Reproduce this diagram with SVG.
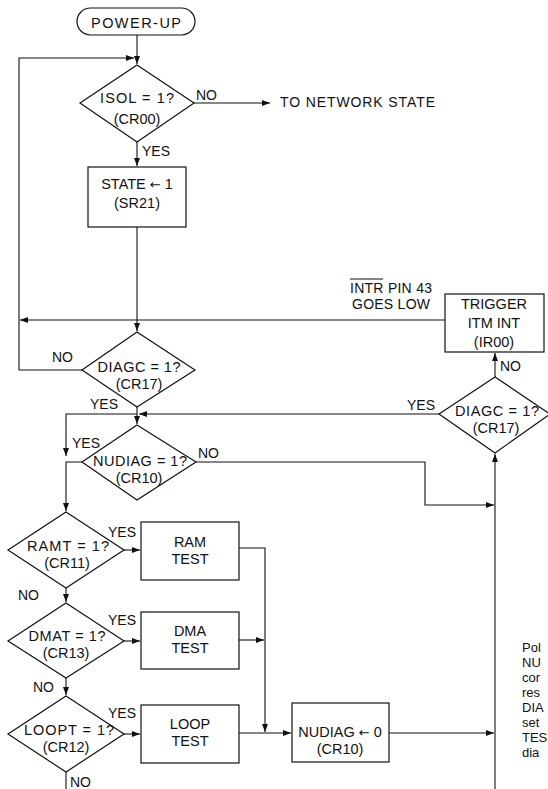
<svg xmlns="http://www.w3.org/2000/svg" width="548" height="789" viewBox="0 0 548 789">
<style>
  .shape { fill: none; stroke: #111; stroke-width: 1.2; }
  .conn { fill: none; stroke: #111; stroke-width: 1.1; }
  text { font-family: "Liberation Sans", Arial, sans-serif; font-size: 14px; fill: #111; }
  .n { font-size: 14.5px; text-anchor: middle; }
  .arr { font-family: "DejaVu Sans", sans-serif; font-size: 13px; }
  .note { font-size: 13px; }
</style>
<defs>
  <marker id="ah" markerUnits="userSpaceOnUse" markerWidth="8" markerHeight="6" refX="8" refY="3" orient="auto">
    <path d="M0,0 L8,3 L0,6 z" fill="#111"/>
  </marker>
</defs>
<rect width="548" height="789" fill="#fff"/>

<g id="connectors">
  <path class="conn" d="M137,35 V64" marker-end="url(#ah)"/>
  <path class="conn" d="M82,370 H19 V58 H134" marker-end="url(#ah)"/>
  <path class="conn" d="M194,103 H270" marker-end="url(#ah)"/>
  <path class="conn" d="M137,142 V166" marker-end="url(#ah)"/>
  <path class="conn" d="M137,227 V331" marker-end="url(#ah)"/>
  <path class="conn" d="M445,320 H20" marker-end="url(#ah)"/>
  <path class="conn" d="M137,407 V424" marker-end="url(#ah)"/>
  <path class="conn" d="M137,414 H66 V456" marker-end="url(#ah)"/>
  <path class="conn" d="M82,462 H66 V511" marker-end="url(#ah)"/>
  <path class="conn" d="M439,414 H139" marker-end="url(#ah)"/>
  <path class="conn" d="M495,377 V353" marker-end="url(#ah)"/>
  <path class="conn" d="M196,462 H425 V505 H494" marker-end="url(#ah)"/>
  <path class="conn" d="M495,789 V454" marker-end="url(#ah)"/>
  <path class="conn" d="M124,550 H140" marker-end="url(#ah)"/>
  <path class="conn" d="M66,588 V602" marker-end="url(#ah)"/>
  <path class="conn" d="M124,641 H140" marker-end="url(#ah)"/>
  <path class="conn" d="M66,678 V695" marker-end="url(#ah)"/>
  <path class="conn" d="M124,734 H140" marker-end="url(#ah)"/>
  <path class="conn" d="M66,772 V789"/>
  <path class="conn" d="M239,548 H265 V732" marker-end="url(#ah)"/>
  <path class="conn" d="M239,640 H264" marker-end="url(#ah)"/>
  <path class="conn" d="M239,733 H291" marker-end="url(#ah)"/>
  <path class="conn" d="M389,733 H494" marker-end="url(#ah)"/>
</g>

<g id="labels">
  <text x="196" y="100">NO</text>
  <text x="280" y="107" font-size="15" textLength="155">TO NETWORK STATE</text>
  <text x="142" y="156">YES</text>
  <text x="52" y="362">NO</text>
  <text x="90" y="409">YES</text>
  <text x="72" y="448">YES</text>
  <text x="198" y="458">NO</text>
  <text x="407" y="410">YES</text>
  <text x="500" y="371">NO</text>
  <text x="350" y="293" textLength="82">INTR PIN 43</text>
  <line x1="350" y1="279" x2="383" y2="279" stroke="#111" stroke-width="1"/>
  <text x="352" y="309" textLength="78">GOES LOW</text>
  <text x="108" y="537">YES</text>
  <text x="18" y="600">NO</text>
  <text x="108" y="625">YES</text>
  <text x="33" y="692">NO</text>
  <text x="108" y="718">YES</text>
  <text x="70" y="787">NO</text>
</g>

<g id="power-up">
  <rect class="shape" x="77" y="8" width="118" height="27" rx="13.5"/>
  <text class="n" x="136" y="28" font-size="15" textLength="90">POWER-UP</text>
</g>
<g id="isol">
  <polygon class="shape" points="137,65 194,103 137,142 80,103"/>
  <text class="n" x="137" y="103" textLength="74">ISOL = 1?</text>
  <text class="n" x="137" y="124">(CR00)</text>
</g>
<g id="state">
  <rect class="shape" x="88" y="167" width="98" height="60"/>
  <text class="n" x="137" y="189">STATE <tspan class="arr">←</tspan> 1</text>
  <text class="n" x="137" y="208">(SR21)</text>
</g>
<g id="diagc-left">
  <polygon class="shape" points="137,332 195,370 137,407 82,370"/>
  <text class="n" x="139" y="372" textLength="83">DIAGC = 1?</text>
  <text class="n" x="139" y="389">(CR17)</text>
</g>
<g id="trigger">
  <rect class="shape" x="445" y="294" width="99" height="58"/>
  <text class="n" x="494" y="309">TRIGGER</text>
  <text class="n" x="494" y="328">ITM INT</text>
  <text class="n" x="494" y="347">(IR00)</text>
</g>
<g id="diagc-right">
  <polygon class="shape" points="495,377 550,414 495,453 439,414"/>
  <text class="n" x="497" y="416" textLength="84">DIAGC = 1?</text>
  <text class="n" x="496" y="433">(CR17)</text>
</g>
<g id="nudiag">
  <polygon class="shape" points="137,425 196,462 137,500 82,462"/>
  <text class="n" x="140" y="466" textLength="94">NUDIAG = 1?</text>
  <text class="n" x="139" y="483">(CR10)</text>
</g>
<g id="ramt">
  <polygon class="shape" points="66,512 124,550 66,588 8,550"/>
  <text class="n" x="68" y="551" textLength="82">RAMT = 1?</text>
  <text class="n" x="67" y="568">(CR11)</text>
</g>
<g id="ram-test">
  <rect class="shape" x="141" y="522" width="98" height="58"/>
  <text class="n" x="190" y="547">RAM</text>
  <text class="n" x="190" y="564">TEST</text>
</g>
<g id="dmat">
  <polygon class="shape" points="66,603 124,641 66,678 8,641"/>
  <text class="n" x="67" y="641" textLength="77">DMAT = 1?</text>
  <text class="n" x="66" y="658">(CR13)</text>
</g>
<g id="dma-test">
  <rect class="shape" x="141" y="612" width="98" height="57"/>
  <text class="n" x="190" y="636">DMA</text>
  <text class="n" x="190" y="653">TEST</text>
</g>
<g id="loopt">
  <polygon class="shape" points="66,696 124,734 66,772 8,734"/>
  <text class="n" x="69" y="735" textLength="90">LOOPT = 1?</text>
  <text class="n" x="66" y="752">(CR12)</text>
</g>
<g id="loop-test">
  <rect class="shape" x="141" y="705" width="98" height="58"/>
  <text class="n" x="190" y="729">LOOP</text>
  <text class="n" x="190" y="746">TEST</text>
</g>
<g id="nudiag-clear">
  <rect class="shape" x="292" y="703" width="97" height="59"/>
  <text class="n" x="340" y="737">NUDIAG <tspan class="arr">←</tspan> 0</text>
  <text class="n" x="340" y="754">(CR10)</text>
</g>
<g id="note" class="note">
  <text class="note" x="522" y="652">Pol</text>
  <text class="note" x="522" y="667">NU</text>
  <text class="note" x="522" y="682">cor</text>
  <text class="note" x="522" y="697">res</text>
  <text class="note" x="522" y="712">DIA</text>
  <text class="note" x="522" y="727">set</text>
  <text class="note" x="522" y="742">TES</text>
  <text class="note" x="522" y="757">dia</text>
</g>
</svg>
